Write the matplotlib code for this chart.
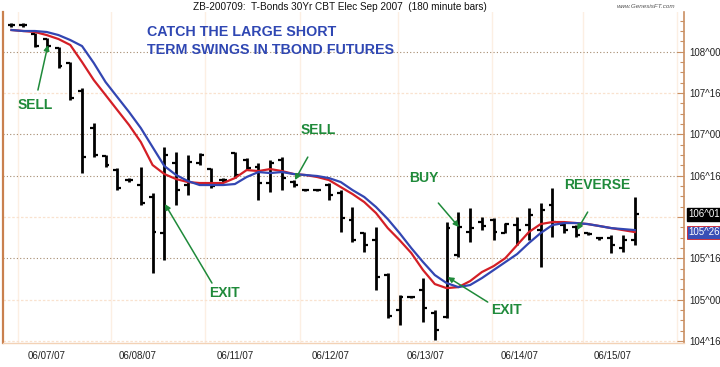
import matplotlib
matplotlib.use("Agg")
import matplotlib.pyplot as plt
import numpy as np

plt.rcParams['font.family'] = ['Liberation Sans', 'DejaVu Sans']

# ---- data (T-Bond futures, 180 minute bars, prices in points) ----
bar_high = [108.347, 108.347, 108.226, 108.165, 108.056, 107.875, 107.560, 107.137, 106.749, 106.592,
            106.471, 106.604, 106.290, 106.846, 106.786, 106.749, 106.774, 106.592, 106.471, 106.786,
            106.713, 106.653, 106.689, 106.725, 106.447, 106.338, 106.338, 106.411, 106.326, 106.121,
            105.818, 105.878, 105.322, 105.055, 105.043, 105.261, 104.874, 105.939, 106.060, 106.108,
            106.000, 105.987, 105.927, 106.000, 106.108, 106.169, 106.350, 105.939, 105.903, 105.818,
            105.757, 105.782, 105.782, 106.242]
bar_low = [108.298, 108.298, 108.056, 108.044, 107.802, 107.415, 106.532, 106.725, 106.604, 106.326,
           106.423, 106.145, 105.322, 105.479, 106.145, 106.266, 106.628, 106.350, 106.423, 106.471,
           106.568, 106.205, 106.302, 106.326, 106.362, 106.314, 106.314, 106.205, 105.818, 105.697,
           105.576, 105.116, 104.777, 104.693, 105.019, 104.729, 104.511, 104.777, 105.515, 105.697,
           105.842, 105.721, 105.806, 105.661, 105.721, 105.395, 105.757, 105.806, 105.757, 105.782,
           105.722, 105.564, 105.576, 105.661]
bar_open = [108.322, 108.322, 108.214, 108.153, 108.044, 107.863, 107.524, 107.076, 106.737, 106.568,
            106.447, 106.387, 106.241, 105.806, 106.653, 106.387, 106.653, 106.580, 106.447, 106.774,
            106.689, 106.604, 106.411, 106.689, 106.423, 106.326, 106.326, 106.387, 106.290, 105.963,
            105.806, 105.721, 105.298, 104.874, 105.031, 105.116, 104.838, 104.789, 105.540, 105.818,
            105.939, 105.963, 105.806, 105.903, 105.903, 105.842, 106.145, 105.903, 105.878, 105.806,
            105.745, 105.745, 105.625, 105.721]
bar_close = [108.322, 108.322, 108.068, 108.068, 107.826, 107.439, 106.725, 106.749, 106.628, 106.350,
             106.447, 106.169, 105.818, 106.749, 106.326, 106.665, 106.749, 106.374, 106.447, 106.508,
             106.592, 106.411, 106.653, 106.471, 106.387, 106.326, 106.326, 106.266, 105.987, 105.721,
             105.661, 105.273, 104.801, 105.031, 105.031, 104.898, 104.632, 105.866, 105.878, 105.866,
             105.891, 105.818, 105.915, 105.842, 106.024, 106.084, 105.939, 105.842, 105.782, 105.794,
             105.745, 105.661, 105.721, 106.031]
ma_red = [108.262, 108.250, 108.238, 108.201, 108.153, 108.081, 107.875, 107.657, 107.476, 107.294,
          107.113, 106.907, 106.629, 106.520, 106.459, 106.423, 106.411, 106.411, 106.411, 106.471,
          106.568, 106.556, 106.580, 106.556, 106.520, 106.508, 106.484, 106.447, 106.362, 106.278,
          106.181, 106.048, 105.866, 105.721, 105.564, 105.358, 105.189, 105.140, 105.152, 105.225,
          105.334, 105.406, 105.503, 105.661, 105.818, 105.915, 105.939, 105.939, 105.927, 105.915,
          105.891, 105.866, 105.842, 105.818]
ma_blue = [108.262, 108.250, 108.250, 108.238, 108.201, 108.141, 108.068, 107.863, 107.633, 107.451,
           107.270, 107.076, 106.846, 106.617, 106.508, 106.435, 106.387, 106.387, 106.387, 106.399,
           106.484, 106.544, 106.532, 106.544, 106.520, 106.508, 106.496, 106.471, 106.423, 106.326,
           106.242, 106.121, 105.975, 105.806, 105.624, 105.455, 105.298, 105.201, 105.152, 105.177,
           105.261, 105.358, 105.455, 105.552, 105.685, 105.806, 105.903, 105.927, 105.927, 105.915,
           105.891, 105.866, 105.854, 105.842]
date_labels = ["06/07/07", "06/08/07", "06/11/07", "06/12/07", "06/13/07", "06/14/07", "06/15/07"]
date_pos = [3.0, 10.7, 19.0, 27.1, 35.2, 43.2, 51.1]
day_grid = [0.55, 8.45, 16.45, 24.5, 32.9, 40.9, 48.6, 56.6]
price_ticks = [104.5, 105.0, 105.5, 106.0, 106.5, 107.0, 107.5, 108.0]
dark_grid = [105.5, 106.5, 107.0, 108.0]
last_close_label = "106^01"
last_ma_label = "105^26"

GREEN = "#1f8a3a"
BLUE_T = "#2f47b3"

def fmt32(p):
    whole = int(np.floor(p + 1e-9))
    t = int(round((p - whole) * 32))
    return f"{whole}^{t:02d}"

fig = plt.figure(figsize=(7.2, 3.67), dpi=100)
fig.patch.set_facecolor("white")
ax = fig.add_axes([3 / 720, 24 / 367, 681 / 720, 331 / 367])
ax.set_xlim(-0.72, 57.19)
ax.set_ylim(104.476, 108.480)

# grids
for g in day_grid:
    ax.axvline(g, color="#fcefe3", lw=1.0, zorder=0)
for p in price_ticks:
    if p in dark_grid:
        ax.axhline(p, color="#a58a6e", lw=0.8, ls=(0, (1, 2)), zorder=1)
    else:
        ax.axhline(p, color="#f9e2cf", lw=0.9, ls=(0, (2, 1.5)), zorder=0)

idx = np.arange(len(bar_high))
ax.vlines(idx, bar_low, bar_high, color="black", lw=2.0, zorder=3)
ax.hlines(bar_open, idx - 0.33, idx, color="black", lw=1.6, zorder=3)
ax.hlines(bar_close, idx, idx + 0.33, color="black", lw=1.6, zorder=3)

ax.plot(idx, ma_red, color="#d41f26", lw=1.6, zorder=4)
ax.plot(idx, ma_blue, color="#3346b2", lw=1.6, zorder=4)

# annotations
def note(label, tx, ty, tail, head):
    ax.text(tx, ty, label, color=GREEN, fontsize=10, fontweight="bold",
            ha="center", va="center", zorder=6)
    ax.annotate("", xy=head, xytext=tail,
                arrowprops=dict(arrowstyle="-|>", color=GREEN, lw=1.1,
                                mutation_scale=8, shrinkA=0, shrinkB=0), zorder=6)

note("SELL", 2.0, 107.355, (2.25, 107.536), (3.1, 108.081))
note("SELL", 26.1, 107.052, (25.2, 106.725), (24.1, 106.447))
note("EXIT", 18.1, 105.080, (17.05, 105.201), (13.05, 106.157))
note("BUY", 35.1, 106.471, (36.3, 106.169), (38.05, 105.878))
note("EXIT", 42.05, 104.874, (40.5, 104.971), (37.1, 105.273))
note("REVERSE", 49.8, 106.387, (49.0, 106.060), (48.1, 105.842))

ax.text(11.55, 108.125, "CATCH THE LARGE SHORT\nTERM SWINGS IN TBOND FUTURES",
        color=BLUE_T, fontsize=10.3, fontweight="bold", ha="left", va="center",
        linespacing=1.35, zorder=2)

fig.text(193 / 720, 1 - 7 / 367,
         "ZB-200709:  T-Bonds 30Yr CBT Elec Sep 2007  (180 minute bars)",
         fontsize=7.2, ha="left", va="center", color="#111111")
fig.text(617 / 720, 1 - 6 / 367, "www.GenesisFT.com", fontsize=4.5,
         style="italic", ha="left", va="center", color="#555555")

# axes styling
ax.yaxis.tick_right()
ax.set_yticks(price_ticks)
ax.set_yticklabels(["" if p == 106.0 else fmt32(p) for p in price_ticks])
ax.set_yticks(np.arange(104.5, 108.5, 0.125), minor=True)
ax.tick_params(axis="y", which="major", direction="in", length=5, width=0.8,
               color="#c98f62", labelsize=7, pad=4, labelcolor="#222222")
ax.tick_params(axis="y", which="minor", direction="in", length=3, width=0.8,
               color="#c98f62")
ax.set_xticks(date_pos)
ax.set_xticklabels(date_labels)
ax.tick_params(axis="x", length=0, labelsize=7, pad=6, labelcolor="#222222")

ax.spines["top"].set_visible(False)
ax.spines["right"].set_color("#c98f62")
ax.spines["right"].set_linewidth(1.2)
ax.spines["left"].set_color("#c9804e")
ax.spines["left"].set_linewidth(1.6)
ax.spines["bottom"].set_color("#f3d2b6")
ax.spines["bottom"].set_linewidth(1.0)

# last price boxes
ax.annotate(last_close_label, xy=(1.0, bar_close[-1]), xycoords=("axes fraction", "data"),
            xytext=(3, 0), textcoords="offset points", fontsize=7, color="white",
            va="center", ha="left",
            bbox=dict(boxstyle="square,pad=0.15", fc="black", ec="black"), annotation_clip=False)
ax.annotate(last_ma_label, xy=(1.0, ma_red[-1]), xycoords=("axes fraction", "data"),
            xytext=(3, 0), textcoords="offset points", fontsize=7, color="white",
            va="center", ha="left",
            bbox=dict(boxstyle="square,pad=0.15", fc="#3a4fb6", ec="#d41f26", lw=0.6),
            annotation_clip=False)

fig.savefig("out.png", dpi=100, facecolor="white")
